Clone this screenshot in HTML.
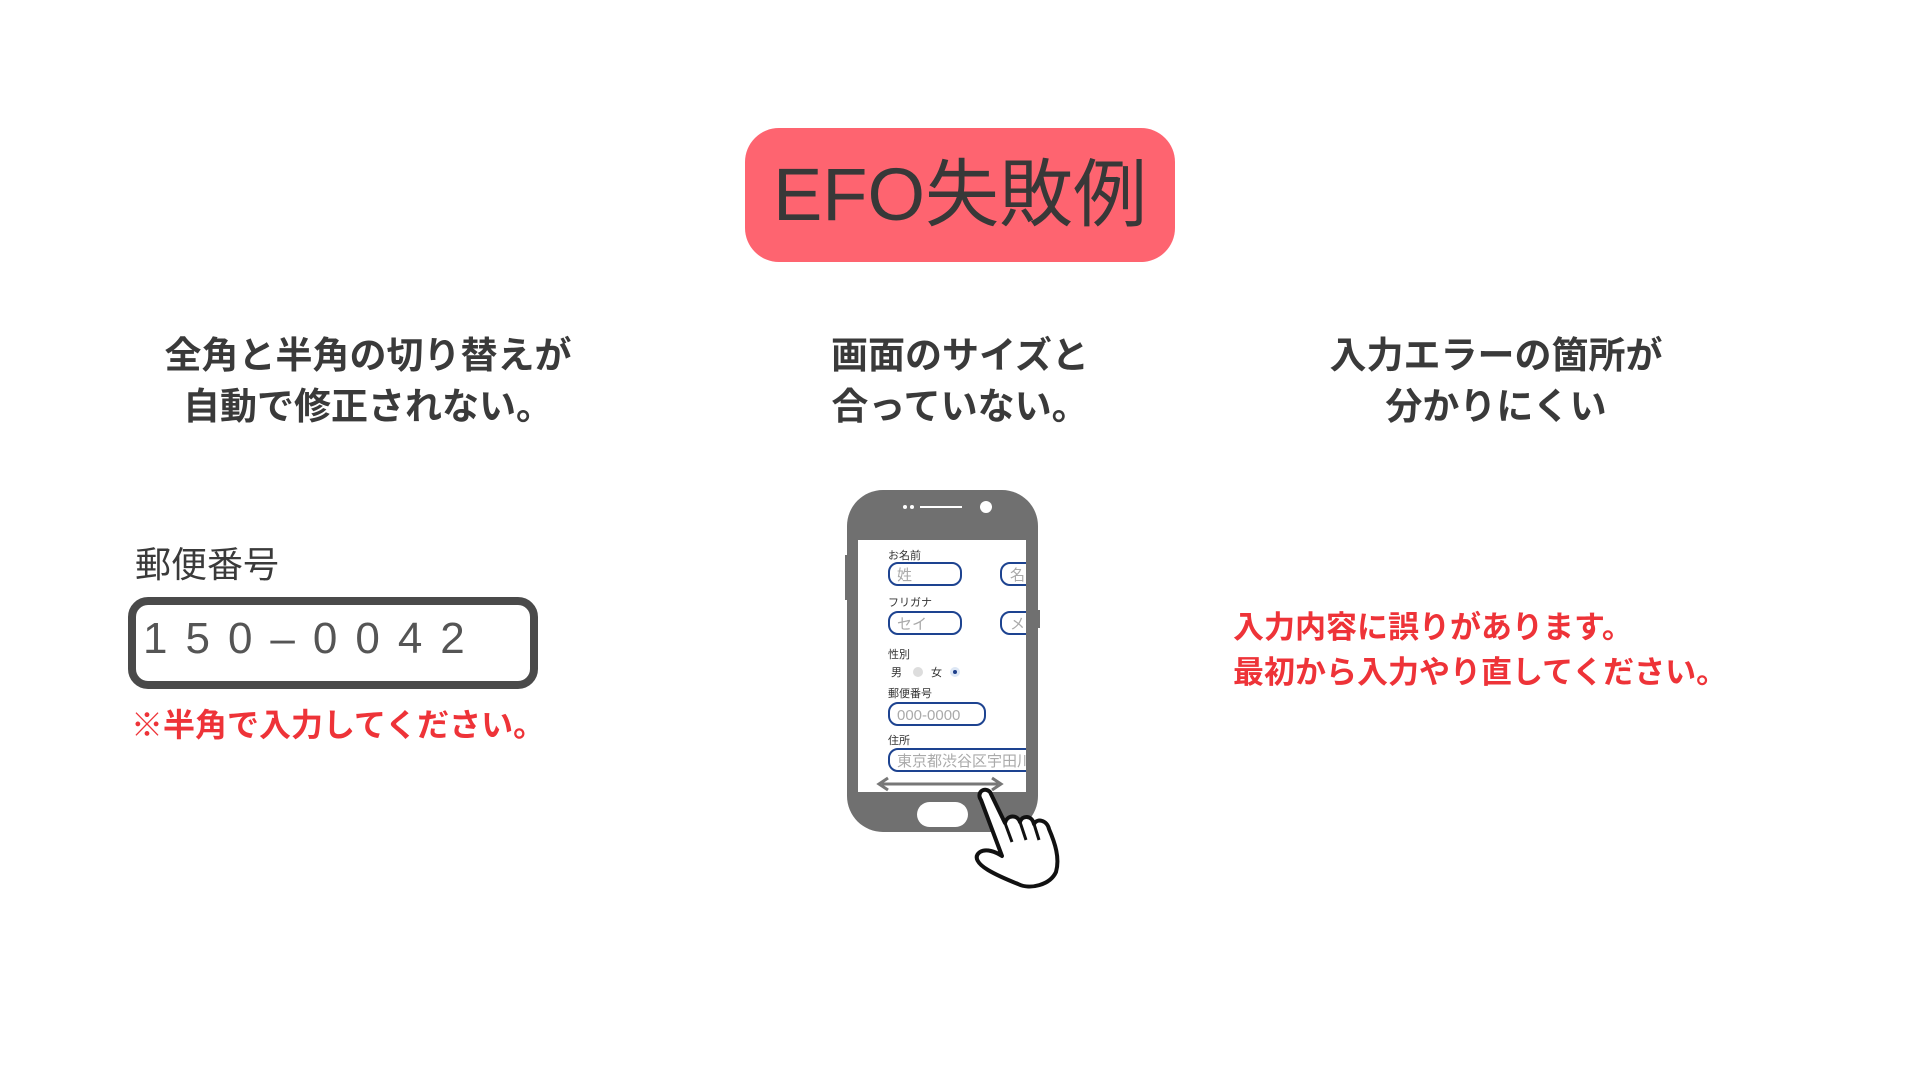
<!DOCTYPE html>
<html><head><meta charset="utf-8"><style>
body{margin:0;width:1920px;height:1080px;background:#fff;position:relative;overflow:hidden;font-family:"Liberation Sans","Noto Sans CJK JP",sans-serif;color:#3a3a3a}
.a{position:absolute;white-space:nowrap}
.h{font-weight:bold;font-size:37px;line-height:51px;text-align:center;color:#3a3a3a}
.red{color:#ee3338;font-weight:bold}
</style></head><body>
<div class="a" style="left:745px;top:128px;width:430px;height:134px;background:#fe6470;border-radius:34px"></div>
<div class="a" style="left:745px;top:128px;width:430px;height:134px;line-height:134px;text-align:center;font-size:74px;color:#383838">EFO失敗例</div>

<div class="a h" style="left:118px;top:330px;width:500px">全角と半角の切り替えが<br>自動で修正されない。</div>
<div class="a h" style="left:710px;top:330px;width:500px">画面のサイズと<br>合っていない。</div>
<div class="a h" style="left:1246px;top:330px;width:500px">入力エラーの箇所が<br>分かりにくい</div>

<div class="a" style="left:135px;top:536px;font-size:36px;color:#3a3a3a">郵便番号</div>
<div class="a" style="left:128px;top:597px;width:394px;height:76px;border:8px solid #4a4a4a;border-radius:20px"></div>
<div class="a" style="left:143px;top:614px;font-size:44px;letter-spacing:18px;color:#555">150–0042</div>
<div class="a red" style="left:131px;top:700px;font-size:32px">※半角で入力してください。</div>

<div class="a red" style="left:1233px;top:605px;font-size:31px;line-height:45px">入力内容に誤りがあります。<br>最初から入力やり直してください。</div>

<svg class="a" style="left:0;top:0" width="1920" height="1080" viewBox="0 0 1920 1080">
<defs><clipPath id="sc"><rect x="858" y="540" width="168" height="252"/></clipPath></defs>
<rect x="845" y="555" width="5" height="45" fill="#707070"/>
<rect x="1035" y="610" width="5" height="18" fill="#707070"/>
<rect x="847" y="490" width="191" height="342" rx="36" fill="#707070"/>
<rect x="858" y="540" width="168" height="252" fill="#fff"/>
<circle cx="905" cy="507" r="2" fill="#fff"/><circle cx="912" cy="507" r="2" fill="#fff"/>
<rect x="920" y="506" width="42" height="2" fill="#fff"/>
<circle cx="986" cy="507" r="6" fill="#fff"/>
<rect x="917" y="802" width="51" height="25" rx="12.5" fill="#fff"/>
<g font-family="Liberation Sans,Noto Sans CJK JP,sans-serif" font-size="11" fill="#333">
<text x="888" y="559">お名前</text>
<text x="888" y="606">フリガナ</text>
<text x="888" y="658">性別</text>
<text x="891" y="676">男</text><text x="931" y="676">女</text>
<text x="888" y="697">郵便番号</text>
<text x="888" y="744">住所</text>
</g>
<circle cx="918" cy="672" r="5" fill="#ddd"/><circle cx="955" cy="672" r="5" fill="#dde7f5"/><circle cx="955" cy="672" r="2" fill="#1d3e8a"/>
<g clip-path="url(#sc)">
<g fill="none" stroke="#1d4390" stroke-width="2">
<rect x="889" y="563" width="72" height="22" rx="9"/>
<rect x="1001" y="563" width="40" height="22" rx="9"/>
<rect x="889" y="612" width="72" height="22" rx="9"/>
<rect x="1001" y="612" width="40" height="22" rx="9"/>
<rect x="889" y="703" width="96" height="22" rx="9"/>
<rect x="889" y="749" width="150" height="22" rx="9"/>
</g>
<g font-family="Liberation Sans,Noto Sans CJK JP,sans-serif" font-size="15" fill="#aaa">
<text x="897" y="580">姓</text><text x="1010" y="580">名</text>
<text x="897" y="629">セイ</text><text x="1010" y="629">メ</text>
<text x="897" y="720">000-0000</text>
<text x="897" y="766">東京都渋谷区宇田川</text>
</g>
</g>
<line x1="882" y1="784" x2="998" y2="784" stroke="#777" stroke-width="3"/>
<path d="M888 778 L879 784 L888 790" fill="none" stroke="#777" stroke-width="3"/>
<path d="M992 778 L1001 784 L992 790" fill="none" stroke="#777" stroke-width="3"/>
<path d="M981 800 C976 793 984 786 990 792 L1005 823 C1007 815 1017 814 1020 822 C1022 815 1032 815 1034 824 C1037 818 1047 820 1049 829 C1055 843 1060 858 1056 872 C1050 885 1030 890 1018 884 C1008 880 998 876 988 870 C978 864 973 857 980 852 C986 848 996 852 1002 856 Z" fill="#fff" stroke="#111" stroke-width="4" stroke-linejoin="round"/>
<path d="M1005 823 L1012 842 M1020 822 L1026 840 M1034 824 L1039 840" stroke="#111" stroke-width="3" fill="none"/>
</svg>
</body></html>
